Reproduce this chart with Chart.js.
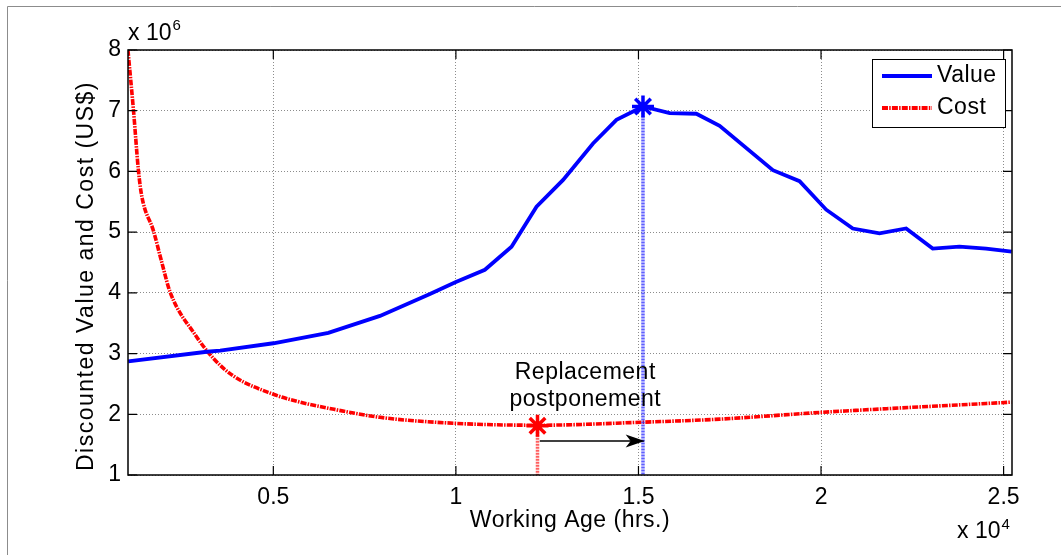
<!DOCTYPE html>
<html>
<head>
<meta charset="utf-8">
<script src="https://cdn.jsdelivr.net/npm/chart.js@4.4.1/dist/chart.umd.min.js"></script>
<style>
  html, body { margin: 0; padding: 0; background: #fff; }
  #wrap { width: 1061px; height: 555px; position: relative; }
</style>
</head>
<body>
<div id="wrap"><canvas id="replChart" width="1061" height="555"></canvas></div>
<script>
// working age (hrs) and discounted value (US$ x 1e6)
const valueAge = [1026, 3179, 3543, 5001, 6506, 7921, 9289, 10000, 10794, 11524, 12208, 12936, 13756, 14397, 15124, 15855, 16585, 17223, 18681, 19412, 20142, 20870, 21601, 22331, 23059, 23790, 24520, 25220];
const valueMusd = [2.87, 3.03, 3.05, 3.17, 3.34, 3.62, 3.98, 4.18, 4.38, 4.76, 5.42, 5.86, 6.46, 6.85, 7.07, 6.96, 6.95, 6.75, 6.02, 5.84, 5.37, 5.06, 4.98, 5.06, 4.73, 4.76, 4.73, 4.68];

// discounted cost
const costAge = [1018, 1171, 1308, 1401, 1718, 1929, 2175, 2859, 3360, 3907, 5001, 5732, 6506, 7921, 10019, 12252, 15124, 17223, 19959, 25212];
const costMusd = [8.0, 7.0, 6.0, 5.58, 5.02, 4.54, 4.01, 3.31, 2.92, 2.63, 2.33, 2.20, 2.10, 1.95, 1.85, 1.82, 1.87, 1.92, 2.03, 2.20];

// optimum points: min cost and max value
const minCost = { age: 12235, musd: 1.81 };
const maxValue = { age: 15124, musd: 7.07 };
const arrowLevel = 1.56;
const arrowFrom = 12297;
const arrowTo = 15170;

const xTicks = [5000, 10000, 15000, 20000, 25000];
const yTicks = [1, 2, 3, 4, 5, 6, 7, 8];

const FONT = '"Liberation Sans", Arial, Helvetica, sans-serif';
const BLUE = '#0000ff';
const RED = '#ff0000';
const COST_DASH = [6, 1.2, 1.5, 1.2];

function pts(xs, ys) {
  return xs.map((x, i) => ({ x: x, y: ys[i] * 1e6 }));
}

const matlabPlugin = {
  id: 'matlabStuff',
  beforeDraw(chart) {
    const ctx = chart.ctx;
    ctx.save();
    ctx.fillStyle = '#fff';
    ctx.fillRect(0, 0, chart.width, chart.height);
    // outer figure frame (only left/top visible)
    ctx.strokeStyle = '#8c8c8c';
    ctx.lineWidth = 1;
    ctx.beginPath();
    ctx.moveTo(7.5, 555);
    ctx.lineTo(7.5, 6.5);
    ctx.lineTo(1061, 6.5);
    ctx.stroke();
    ctx.restore();
  },
  afterDraw(chart) {
    const ctx = chart.ctx;
    const a = chart.chartArea;
    const xs = chart.scales.x, ys = chart.scales.y;
    ctx.save();

    // axes box
    ctx.strokeStyle = '#000';
    ctx.lineWidth = 1.5;
    ctx.strokeRect(a.left, a.top, a.right - a.left, a.bottom - a.top);

    // inward ticks on all four sides
    ctx.lineWidth = 1.2;
    ctx.beginPath();
    xTicks.forEach(v => {
      const px = xs.getPixelForValue(v);
      ctx.moveTo(px, a.bottom); ctx.lineTo(px, a.bottom - 9);
      ctx.moveTo(px, a.top); ctx.lineTo(px, a.top + 9);
    });
    yTicks.forEach(v => {
      const py = ys.getPixelForValue(v * 1e6);
      ctx.moveTo(a.left, py); ctx.lineTo(a.left + 9, py);
      ctx.moveTo(a.right, py); ctx.lineTo(a.right - 9, py);
    });
    ctx.stroke();

    // arrowhead
    const tipX = xs.getPixelForValue(arrowTo);
    const ay = ys.getPixelForValue(arrowLevel * 1e6);
    ctx.fillStyle = '#000';
    ctx.beginPath();
    ctx.moveTo(tipX, ay);
    ctx.lineTo(tipX - 19, ay - 6.5);
    ctx.lineTo(tipX - 14, ay);
    ctx.lineTo(tipX - 19, ay + 6.5);
    ctx.closePath();
    ctx.fill();

    // annotation text
    ctx.fillStyle = '#000';
    ctx.font = '23px ' + FONT;
    ctx.textAlign = 'center';
    ctx.textBaseline = 'middle';
    ctx.letterSpacing = '0.5px';
    const tx = xs.getPixelForValue(13543);
    ctx.fillText('Replacement', tx, ys.getPixelForValue(2.685e6));
    ctx.fillText('postponement', tx, ys.getPixelForValue(2.236e6));

    // axis titles
    ctx.fillText('Working Age (hrs.)', (a.left + a.right) / 2, 521);
    ctx.save();
    ctx.translate(87, 276);
    ctx.rotate(-Math.PI / 2);
    ctx.letterSpacing = '1.5px';
    ctx.fillText('Discounted Value and Cost (US$)', 0, 0);
    ctx.restore();
    ctx.letterSpacing = '0px';

    // exponent labels
    ctx.textAlign = 'left';
    ctx.textBaseline = 'alphabetic';
    ctx.font = '23px ' + FONT;
    ctx.fillText('x 10', 128, 40);
    let w = ctx.measureText('x 10').width;
    ctx.font = '15px ' + FONT;
    ctx.fillText('6', 128 + w + 1, 30);
    ctx.font = '23px ' + FONT;
    ctx.fillText('x 10', 957, 538);
    w = ctx.measureText('x 10').width;
    ctx.font = '15px ' + FONT;
    ctx.fillText('4', 957 + w + 1, 529);

    // legend
    const lx = 872, ly = 59, lw = 133, lh = 68;
    ctx.fillStyle = '#fff';
    ctx.fillRect(lx, ly, lw, lh);
    ctx.strokeStyle = '#000';
    ctx.lineWidth = 1;
    ctx.strokeRect(lx + 0.5, ly + 0.5, lw, lh);
    ctx.lineWidth = 3.8;
    ctx.strokeStyle = BLUE;
    ctx.beginPath(); ctx.moveTo(882, 76); ctx.lineTo(932, 76); ctx.stroke();
    ctx.strokeStyle = RED;
    ctx.setLineDash(COST_DASH);
    ctx.beginPath(); ctx.moveTo(882, 108); ctx.lineTo(932, 108); ctx.stroke();
    ctx.setLineDash([]);
    ctx.fillStyle = '#000';
    ctx.font = '23px ' + FONT;
    ctx.textBaseline = 'middle';
    ctx.letterSpacing = '0.5px';
    ctx.fillText('Value', 937, 76);
    ctx.fillText('Cost', 937, 108);

    ctx.restore();
  }
};

const ctx = document.getElementById('replChart').getContext('2d');
const myChart = new Chart(ctx, {
  type: 'line',
  data: {
    datasets: [
      {
        label: 'Value',
        data: pts(valueAge, valueMusd),
        borderColor: BLUE,
        borderWidth: 3.8,
        pointRadius: 0,
        tension: 0,
        order: 3
      },
      {
        label: 'Cost',
        data: pts(costAge, costMusd),
        borderColor: RED,
        borderWidth: 3.6,
        borderDash: COST_DASH,
        pointRadius: 0,
        cubicInterpolationMode: 'monotone',
        order: 4
      },
      {
        label: 'max value line',
        data: [{ x: maxValue.age, y: maxValue.musd * 1e6 }, { x: maxValue.age, y: 1e6 }],
        borderColor: 'rgba(40,40,255,0.75)',
        borderWidth: 3.5,
        borderDash: [2, 1],
        pointRadius: 0,
        order: 2
      },
      {
        label: 'min cost line',
        data: [{ x: minCost.age, y: minCost.musd * 1e6 }, { x: minCost.age, y: 1e6 }],
        borderColor: 'rgba(255,40,40,0.75)',
        borderWidth: 3.5,
        borderDash: [2, 1],
        pointRadius: 0,
        order: 2
      },
      {
        label: 'postponement',
        data: [{ x: arrowFrom, y: arrowLevel * 1e6 }, { x: arrowTo - 14, y: arrowLevel * 1e6 }],
        borderColor: '#000',
        borderWidth: 1.3,
        pointRadius: 0,
        order: 2
      },
      {
        label: 'optimum value',
        data: [{ x: maxValue.age, y: maxValue.musd * 1e6 }],
        showLine: false,
        pointStyle: 'star',
        pointRadius: 11,
        pointBorderWidth: 3.5,
        pointBorderColor: BLUE,
        order: 1
      },
      {
        label: 'optimum cost',
        data: [{ x: minCost.age, y: minCost.musd * 1e6 }],
        showLine: false,
        pointStyle: 'star',
        pointRadius: 11,
        pointBorderWidth: 3.5,
        pointBorderColor: RED,
        order: 1
      }
    ]
  },
  options: {
    responsive: false,
    animation: false,
    events: [],
    layout: { padding: { left: 0, right: 49, top: 50, bottom: 0 } },
    plugins: {
      legend: { display: false },
      tooltip: { enabled: false }
    },
    scales: {
      x: {
        type: 'linear',
        min: 1020,
        max: 25230,
        afterBuildTicks: s => { s.ticks = xTicks.map(v => ({ value: v })); },
        afterFit: s => { s.height = 80; },
        grid: { color: 'rgba(0,0,0,0.45)', lineWidth: 1, drawTicks: false },
        border: { display: false, dash: [1, 2] },
        ticks: {
          padding: 9,
          color: '#000',
          font: { family: FONT, size: 23 },
          maxRotation: 0,
          callback: v => String(v / 1e4)
        }
      },
      y: {
        type: 'linear',
        min: 1e6,
        max: 8e6,
        afterBuildTicks: s => { s.ticks = yTicks.map(v => ({ value: v * 1e6 })); },
        afterFit: s => { s.width = 128; },
        grid: { color: 'rgba(0,0,0,0.45)', lineWidth: 1, drawTicks: false },
        border: { display: false, dash: [1, 2] },
        ticks: {
          padding: 7,
          color: '#000',
          font: { family: FONT, size: 23 },
          callback: v => String(v / 1e6)
        }
      }
    }
  },
  plugins: [matlabPlugin]
});
</script>
</body>
</html>
